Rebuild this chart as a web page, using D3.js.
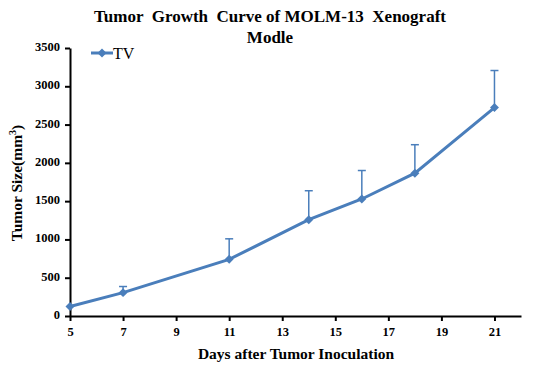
<!DOCTYPE html>
<html lang="en">
<head>
  <meta charset="UTF-8">
  <title>Tumor Growth Curve</title>
  <script src="https://d3js.org/d3.v7.min.js"></script>
  <style>
    body { margin: 0; background: #fff; }
    svg text { font-family: "Liberation Serif", "Times New Roman", serif !important; }
    .tick text { font-weight: bold; font-size: 12.5px; fill: #000; }
  </style>
</head>
<body>
<div id="chart-container"></div>
<script>
  // Data
  const days = [5, 7, 11, 14, 16, 18, 21];
  const tv = [125, 305, 740, 1258, 1528, 1865, 2722];
  const errUp = [0, 80, 268, 378, 372, 372, 484];
  const xTicks = [5, 7, 9, 11, 13, 15, 17, 19, 21];
  const yTicks = [0, 500, 1000, 1500, 2000, 2500, 3000, 3500];

  const W = 539, H = 373;
  const margin = { top: 48, right: 18, bottom: 57, left: 70 };
  const serif = '"Liberation Serif", "Times New Roman", serif';

  const svg = d3.select('#chart-container')
    .append('svg')
    .attr('width', W)
    .attr('height', H);

  const x = d3.scaleLinear().domain([5, 22]).range([margin.left, W - margin.right]);
  const y = d3.scaleLinear().domain([0, 3500]).range([H - margin.bottom, margin.top]);

  const color = '#4a7ebb';

  // Axes
  svg.append('g')
    .attr('transform', `translate(0,${H - margin.bottom})`)
    .call(d3.axisBottom(x).tickValues(xTicks).tickFormat(d3.format('d')).tickSize(5).tickSizeOuter(0).tickPadding(6))
    .attr('font-family', serif)
    .call(g => g.selectAll('.domain, line').attr('stroke', '#000').attr('stroke-width', 2));

  svg.append('g')
    .attr('transform', `translate(${margin.left},0)`)
    .call(d3.axisLeft(y).tickValues(yTicks).tickFormat(d3.format('d')).tickSize(5).tickSizeOuter(0).tickPadding(5))
    .attr('font-family', serif)
    .call(g => g.selectAll('.domain, line').attr('stroke', '#000').attr('stroke-width', 2))
    .call(g => g.selectAll('.tick text').attr('dy', '0.2em'));

  // Error bars (upper only)
  const eb = svg.append('g').attr('stroke', color).attr('stroke-width', 1.5);
  days.forEach((d, i) => {
    if (!errUp[i]) return;
    eb.append('line')
      .attr('x1', x(d)).attr('x2', x(d))
      .attr('y1', y(tv[i])).attr('y2', y(tv[i] + errUp[i]));
    eb.append('line')
      .attr('x1', x(d) - 4).attr('x2', x(d) + 4)
      .attr('y1', y(tv[i] + errUp[i])).attr('y2', y(tv[i] + errUp[i]));
  });

  // Line
  svg.append('path')
    .datum(days.map((d, i) => [d, tv[i]]))
    .attr('fill', 'none')
    .attr('stroke', color)
    .attr('stroke-width', 3)
    .attr('d', d3.line().x(d => x(d[0])).y(d => y(d[1])));

  // Diamond markers (rotated squares)
  const diamond = d3.symbol().type(d3.symbolSquare).size(40);
  svg.selectAll('.pt')
    .data(days.map((d, i) => [d, tv[i]]))
    .enter().append('path')
    .attr('class', 'pt')
    .attr('d', diamond)
    .attr('transform', d => `translate(${x(d[0])},${y(d[1])}) rotate(45)`)
    .attr('fill', color);

  // Legend
  const lg = svg.append('g').attr('transform', 'translate(91,53)');
  lg.append('line').attr('x1', 0).attr('x2', 22).attr('stroke', color).attr('stroke-width', 3);
  lg.append('path').attr('d', diamond).attr('transform', 'translate(11,0) rotate(45)').attr('fill', color);
  lg.append('text').attr('x', 22).attr('y', 5.5).attr('font-size', 16).text('TV');

  // Title
  const title = svg.append('text')
    .attr('text-anchor', 'middle')
    .attr('font-weight', 'bold')
    .attr('font-size', 17)
    .style('white-space', 'pre');
  title.append('tspan').attr('x', 270).attr('y', 22).text('Tumor  Growth  Curve of MOLM-13  Xenograft');
  title.append('tspan').attr('x', 270).attr('y', 43).text('Modle');

  // Axis titles
  svg.append('text')
    .attr('x', 296)
    .attr('y', 359)
    .attr('text-anchor', 'middle')
    .attr('font-weight', 'bold')
    .attr('font-size', 15.5)
    .text('Days after Tumor Inoculation');

  const yl = svg.append('text')
    .attr('transform', 'translate(22,183) rotate(-90)')
    .attr('text-anchor', 'middle')
    .attr('font-weight', 'bold')
    .attr('font-size', 15.5);
  yl.append('tspan').text('Tumor Size(mm');
  yl.append('tspan').attr('font-size', 10).attr('dy', -6).text('3');
  yl.append('tspan').attr('dy', 6).text(')');
</script>
</body>
</html>
